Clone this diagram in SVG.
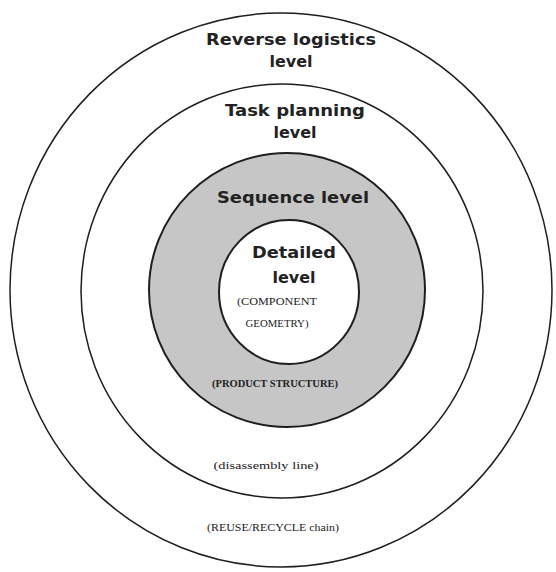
<svg xmlns="http://www.w3.org/2000/svg" width="556" height="572" viewBox="0 0 556 572">
  <style>
    .ring { fill: none; stroke: #1e1e1e; stroke-width: 1.5; }
    .title { font-family: "DejaVu Sans", Verdana, sans-serif; font-weight: bold; font-size: 16px; fill: #222222; text-anchor: middle; }
    .note { font-family: "Liberation Serif", "Times New Roman", serif; font-size: 11px; fill: #222222; text-anchor: middle; }
  </style>
  <rect width="556" height="572" fill="#ffffff"/>

  <!-- outermost ring: reverse logistics -->
  <g id="reverse-logistics">
    <ellipse class="ring" cx="281" cy="290" rx="271" ry="277"/>
    <text class="title" x="291" y="45" textLength="170" lengthAdjust="spacingAndGlyphs">Reverse logistics</text>
    <text class="title" x="291" y="67">level</text>
    <text class="note" x="273" y="531" textLength="132" lengthAdjust="spacingAndGlyphs">(REUSE/RECYCLE chain)</text>
  </g>

  <!-- task planning ring -->
  <g id="task-planning">
    <ellipse class="ring" cx="282" cy="291" rx="201" ry="207"/>
    <text class="title" x="295" y="116" textLength="140" lengthAdjust="spacingAndGlyphs">Task planning</text>
    <text class="title" x="295" y="138">level</text>
    <text class="note" x="266" y="469" textLength="105" lengthAdjust="spacingAndGlyphs">(disassembly line)</text>
  </g>

  <!-- sequence ring (shaded) -->
  <g id="sequence">
    <ellipse cx="287" cy="290" rx="138" ry="137" fill="#c6c6c6" stroke="#1e1e1e" stroke-width="2"/>
    <text class="title" x="293" y="203" textLength="152" lengthAdjust="spacingAndGlyphs">Sequence level</text>
    <text class="note" x="275" y="387" font-weight="bold" textLength="126" lengthAdjust="spacingAndGlyphs">(PRODUCT STRUCTURE)</text>
  </g>

  <!-- innermost disc: detailed level -->
  <g id="detailed">
    <ellipse cx="289" cy="292" rx="70" ry="72" fill="#ffffff" stroke="#1e1e1e" stroke-width="2"/>
    <text class="title" x="294" y="258" textLength="84" lengthAdjust="spacingAndGlyphs">Detailed</text>
    <text class="title" x="294" y="283">level</text>
    <text class="note" x="277" y="305" font-size="10" textLength="80" lengthAdjust="spacingAndGlyphs">(COMPONENT</text>
    <text class="note" x="277" y="327" font-size="10" textLength="63" lengthAdjust="spacingAndGlyphs">GEOMETRY)</text>
  </g>
</svg>
